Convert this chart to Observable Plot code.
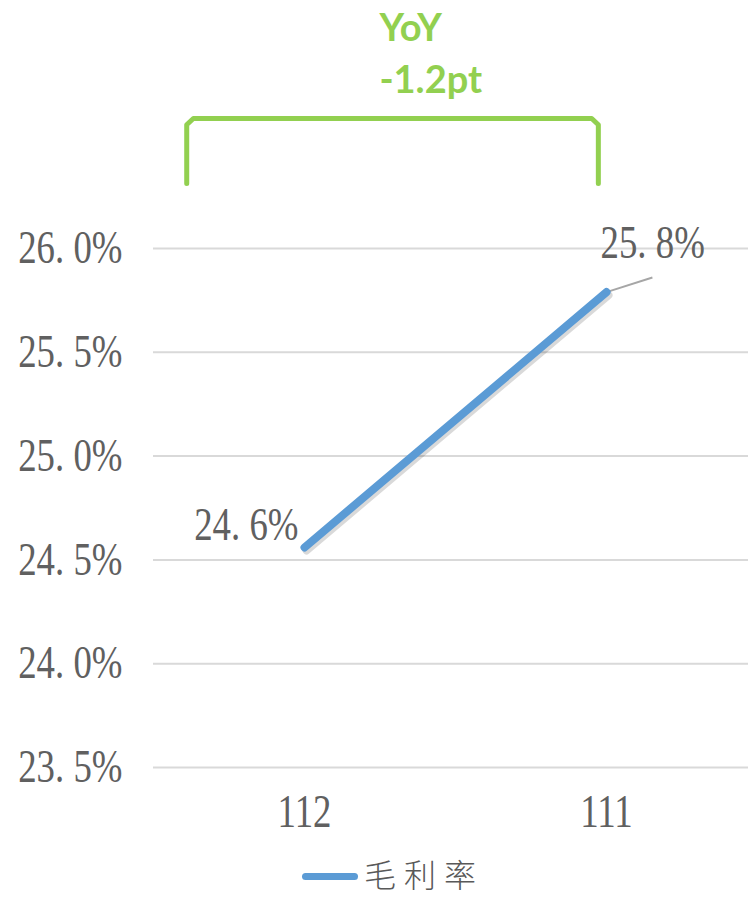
<!DOCTYPE html>
<html>
<head>
<meta charset="utf-8">
<script src="https://cdn.jsdelivr.net/npm/d3@7"></script>
<script src="https://cdn.jsdelivr.net/npm/@observablehq/plot@0.6"></script>
<style>
  html, body { margin: 0; padding: 0; background: #fff; }
  #chart { width: 748px; }
  #legend { position: relative; height: 57px; width: 748px; }
  #legend .sw { position: absolute; left: 302px; top: 33px; width: 56px; height: 7px; border-radius: 4px; background: #5b9bd5; }
  #legend .lb { position: absolute; left: 364px; top: 15px; font-family: "Noto Sans CJK TC", sans-serif; font-weight: 300; font-size: 32px; letter-spacing: 8px; color: #595959; line-height: 36px; }
</style>
</head>
<body>
<div id="chart"></div>
<div id="legend"><div class="sw"></div><div class="lb"></div></div>
<script>
const years = ["112", "111"];
const grossMargin = [24.56, 25.79];
const marginLabels = ["24. 6%", "25. 8%"];
const yTicks = [23.5, 24.0, 24.5, 25.0, 25.5, 26.0];
const yoyLabels = ["YoY", "-1.2pt"];
const seriesName = "毛利率";

const data = years.map((y, i) => ({i, year: y, value: grossMargin[i], label: marginLabels[i]}));
const last = data[data.length - 1];
const first = data[0];

// bracket annotation spanning the two periods (in data units)
const bL = first.i - 0.39, bR = last.i - 0.027, bTop = 26.626, bBot = 26.313;
const bracket = [
  {x: bL, y: bBot}, {x: bL, y: bTop - 0.03}, {x: bL + 0.022, y: bTop},
  {x: bR - 0.022, y: bTop}, {x: bR, y: bTop - 0.03}, {x: bR, y: bBot}
];

const serif = "'Liberation Serif', 'DejaVu Serif', serif";
const green = "#92d050";
const grey = "#606060";

const plot = Plot.plot({
  width: 748,
  height: 840,
  marginLeft: 153,
  marginRight: 0,
  marginTop: 248,
  marginBottom: 73,
  style: {fontFamily: serif, color: grey, background: "#fff", overflow: "visible"},
  x: {type: "linear", domain: [-0.5, 1.5], range: [153, 757]},
  y: {domain: [23.5, 26.0]},
  marks: [
    Plot.gridY(yTicks, {stroke: "#d9d9d9", strokeWidth: 2, strokeOpacity: 1}),
    Plot.axisY(yTicks, {tickSize: 0, tickPadding: 31, fontSize: 46, fontFamily: serif, fill: grey,
      tickFormat: d => d.toFixed(1).replace(".", ". ") + "%", label: null}),
    Plot.axisX(data.map(d => d.i), {tickSize: 0, tickPadding: 27, fontSize: 46, fontFamily: serif, fill: grey,
      tickFormat: i => years[i], label: null}),
    Plot.link([last], {x1: "i", y1: "value", x2: d => d.i + 0.152, y2: d => d.value + 0.07,
      stroke: "#a6a6a6", strokeWidth: 2}),
    Plot.line(data, {x: "i", y: "value", stroke: "#000", strokeOpacity: 0.15, strokeWidth: 8, dx: 2, dy: 3, strokeLinecap: "round"}),
    Plot.line(data, {x: "i", y: "value", stroke: "#5b9bd5", strokeWidth: 8, strokeLinecap: "round"}),
    Plot.text([first], {x: "i", y: "value", text: "label", textAnchor: "end", dx: -6, dy: -22,
      fontSize: 46, fontFamily: serif, fill: grey, className: "cond"}),
    Plot.text([last], {x: "i", y: "value", text: "label", textAnchor: "start", dx: -6, dy: -49,
      fontSize: 46, fontFamily: serif, fill: grey, className: "cond"}),
    Plot.line(bracket, {x: "x", y: "y", stroke: green, strokeWidth: 5, strokeLinejoin: "round", clip: false}),
    Plot.text([yoyLabels[0]], {x: 0.248, y: 27.057, text: d => d, textAnchor: "start",
      fontFamily: "Lato, 'Open Sans', sans-serif", fontWeight: "bold", fontSize: 38, fill: green}),
    Plot.text([yoyLabels[1]], {x: 0.248, y: 26.809, text: d => d, textAnchor: "start",
      fontFamily: "Lato, 'Open Sans', sans-serif", fontWeight: "bold", fontSize: 38, fill: green})
  ]
});
document.getElementById("chart").appendChild(plot);
document.querySelector("#legend .lb").textContent = seriesName;

// condense serif glyphs to mimic narrow Ming-style digits
const condense = 0.8;
plot.querySelectorAll('g[aria-label="y-axis tick label"] text, g[aria-label="x-axis tick label"] text, g.cond text, text.cond, .cond text').forEach(t => {
  try {
    const L = t.getComputedTextLength();
    if (L > 0) {
      t.setAttribute("textLength", (L * condense).toFixed(1));
      t.setAttribute("lengthAdjust", "spacingAndGlyphs");
    }
  } catch (e) {}
});
</script>
</body>
</html>
